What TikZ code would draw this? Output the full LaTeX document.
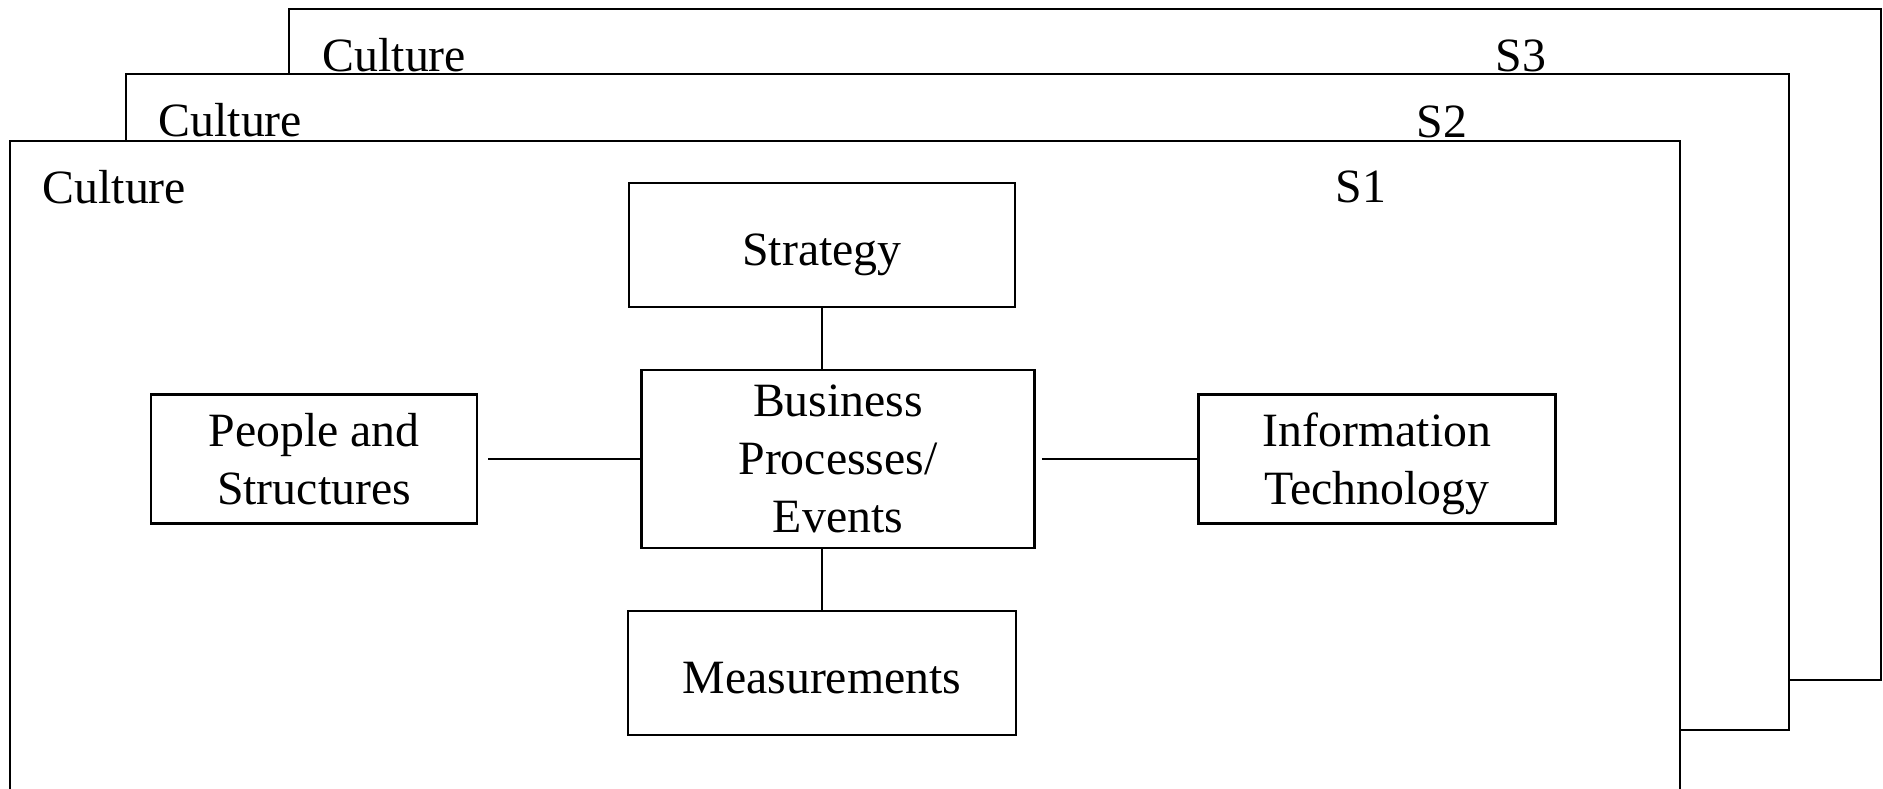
\documentclass[tikz,border=0pt]{standalone}
\usepackage{fontspec}
\setmainfont{Liberation Serif}
\usetikzlibrary{positioning}

\begin{document}
\begin{tikzpicture}[
    box/.style={draw, line width=0.7pt, align=center, inner sep=0pt},
    oneline/.style={text height=0.5cm, text depth=0.1cm},
    frame/.style={draw, fill=white, line width=0.7pt},
    link/.style={line width=0.6pt},
    font=\fontsize{13.6}{16.5}\selectfont]
    \useasboundingbox (0,0) rectangle (18.83,-7.88);
    \clip (0,0) rectangle (18.83,-7.88);

    \draw[frame] (2.89,-0.09) rectangle (18.81,-6.80);
    \draw[frame] (1.26,-0.74) rectangle (17.89,-7.30);
    \draw[frame] (0.10,-1.41) rectangle (16.80,-8.20);

    \node[anchor=base west, inner sep=0pt] (cult3) at (3.22,-0.715) {Culture};
    \node[anchor=base west, inner sep=0pt] (cult2) at (1.58,-1.365) {Culture};
    \node[anchor=base west, inner sep=0pt] (cult1) at (0.42,-2.03) {Culture};
    \node[anchor=base] (s3) at (15.21,-0.71) {S3};
    \node[anchor=base] (s2) at (14.42,-1.37) {S2};
    \node[anchor=base] (s1) at (13.61,-2.02) {S1};

    \node[box, oneline, minimum width=3.86cm, minimum height=1.24cm] (strat) at (8.22,-2.45) {Strategy};
    \node[box, text depth=-0.1cm, minimum width=3.93cm, minimum height=1.78cm] (bp) at (8.38,-4.59) {Business\\Processes/\\Events};
    \node[box, text depth=-0.08cm, minimum width=3.26cm, minimum height=1.29cm] (people) at (3.14,-4.59) {People and\\Structures};
    \node[box, text depth=-0.04cm, minimum width=3.57cm, minimum height=1.29cm] (it) at (13.77,-4.59) {Information\\Technology};
    \node[box, oneline, minimum width=3.88cm, minimum height=1.24cm] (meas) at (8.22,-6.73) {Measurements};

    \draw[link] (strat) -- (strat |- bp.north);
    \draw[link] (meas) -- (meas |- bp.south);
    \draw[link, shorten <=0.1cm] (people) -- (bp);
    \draw[link, shorten <=0.06cm] (bp) -- (it);
\end{tikzpicture}
\end{document}
